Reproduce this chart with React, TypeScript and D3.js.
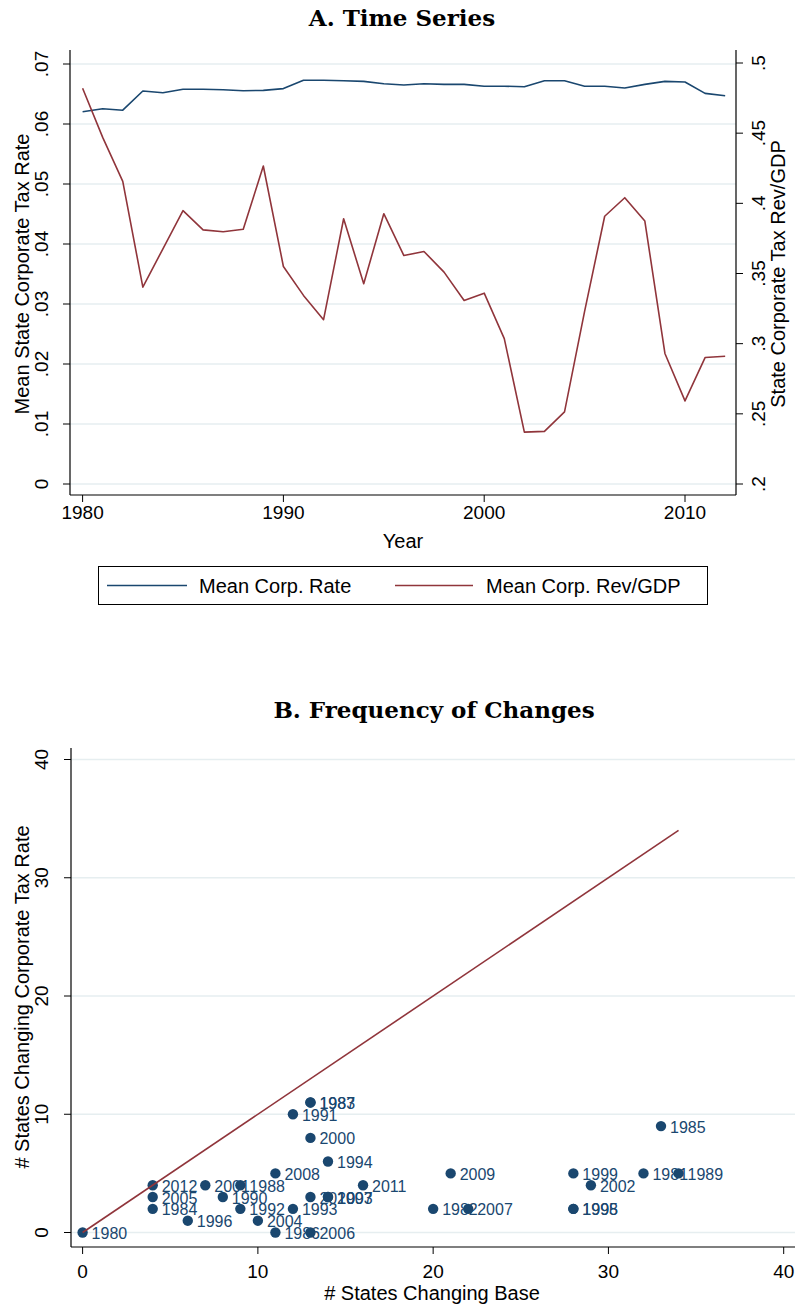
import React from "react";
import * as d3 from "d3";

// ---------- Panel A data ----------
const years: number[] = d3.range(1980, 2013);
const meanCorpRate: number[] = [
  0.06205, 0.06255, 0.0623, 0.0655, 0.0652, 0.0658, 0.0658, 0.0657, 0.06555, 0.0656,
  0.0659, 0.0673, 0.0673, 0.0672, 0.0671, 0.0667, 0.0665, 0.0667, 0.0666, 0.0666,
  0.0663, 0.0663, 0.0662, 0.0672, 0.0672, 0.0663, 0.0663, 0.066, 0.0666, 0.0671,
  0.067, 0.0651, 0.0647,
];
const meanCorpRevGdp: number[] = [
  0.482, 0.447, 0.4157, 0.3403, 0.3676, 0.3948, 0.3811, 0.3797, 0.3815, 0.4266,
  0.355, 0.3344, 0.3171, 0.389, 0.3427, 0.3926, 0.3628, 0.3657, 0.351, 0.3308,
  0.336, 0.3036, 0.237, 0.2375, 0.2514, 0.323, 0.3908, 0.404, 0.3874, 0.293,
  0.2592, 0.2901, 0.291,
];
const leftTicks: number[] = [0, 0.01, 0.02, 0.03, 0.04, 0.05, 0.06, 0.07];
const leftTickLabels: string[] = ["0", ".01", ".02", ".03", ".04", ".05", ".06", ".07"];
const rightTicks: number[] = [0.2, 0.25, 0.3, 0.35, 0.4, 0.45, 0.5];
const rightTickLabels: string[] = [".2", ".25", ".3", ".35", ".4", ".45", ".5"];
const yearTicks: number[] = [1980, 1990, 2000, 2010];

// ---------- Panel B data ----------
const scatterYears: number[] = d3.range(1980, 2013);
const statesChangingBase: number[] = [
  0, 32, 20, 13, 4, 33, 11, 13, 9, 34,
  8, 12, 9, 12, 14, 28, 6, 14, 28, 28,
  13, 7, 29, 14, 10, 4, 13, 22, 11, 21,
  13, 16, 4,
];
const statesChangingRate: number[] = [
  0, 5, 2, 11, 2, 9, 0, 11, 4, 5,
  3, 10, 2, 2, 6, 2, 1, 3, 2, 5,
  8, 4, 4, 3, 1, 3, 0, 2, 5, 5,
  3, 4, 4,
];
const scatterTicks: number[] = [0, 10, 20, 30, 40];

const NAVY = "#1a476f";
const MAROON = "#90353b";
const GRID = "#e6eef0";
const SANS = "'Liberation Sans', Arial, Helvetica, sans-serif";
const SERIF = "'DejaVu Serif', serif";

export default function App() {
  // ---------- Panel A scales ----------
  const xA = d3.scaleLinear().domain([1980, 2010]).range([82.6, 685]);
  const yL = d3.scaleLinear().domain([0, 0.07]).range([484, 64]);
  const yR = d3.scaleLinear().domain([0.2, 0.5]).range([484, 63]);
  const plotA = { left: 70, right: 736, top: 50, bottom: 495 };

  const lineBlue = d3
    .line<number>()
    .x((_, i) => xA(years[i]))
    .y((d) => yL(d));
  const lineRed = d3
    .line<number>()
    .x((_, i) => xA(years[i]))
    .y((d) => yR(d));

  // ---------- Panel B scales ----------
  const xB = d3.scaleLinear().domain([0, 40]).range([82.6, 783.7]);
  const yB = d3.scaleLinear().domain([0, 40]).range([1232.5, 759.5]);
  const plotB = { left: 71, right: 795, top: 748, bottom: 1247 };
  const maxBase = d3.max(statesChangingBase) as number;

  return (
    <svg
      width={797}
      height={1307}
      style={{ position: "absolute", left: 0, top: 0, background: "#fff" }}
      fontFamily={SANS}
    >
      <rect x={0} y={0} width={797} height={1307} fill="#fff" />

      {/* ================= Panel A ================= */}
      <text x={402} y={26} textAnchor="middle" fontFamily={SERIF} fontWeight="bold" fontSize={23}>
        A. Time Series
      </text>

      {/* grid */}
      {leftTicks.map((t) => (
        <line key={"ga" + t} x1={plotA.left} x2={plotA.right} y1={yL(t)} y2={yL(t)} stroke={GRID} strokeWidth={1.5} />
      ))}

      {/* lines */}
      <path d={lineBlue(meanCorpRate) || ""} fill="none" stroke={NAVY} strokeWidth={1.6} strokeLinejoin="round" />
      <path d={lineRed(meanCorpRevGdp) || ""} fill="none" stroke={MAROON} strokeWidth={1.6} strokeLinejoin="round" />

      {/* left axis */}
      <line x1={plotA.left} x2={plotA.left} y1={plotA.top} y2={plotA.bottom} stroke="#000" strokeWidth={1.2} />
      {leftTicks.map((t, i) => (
        <g key={"la" + t}>
          <line x1={plotA.left - 7} x2={plotA.left} y1={yL(t)} y2={yL(t)} stroke="#000" strokeWidth={1} />
          <text
            transform={`translate(48,${yL(t)}) rotate(-90)`}
            textAnchor="middle"
            fontSize={19}
          >
            {leftTickLabels[i]}
          </text>
        </g>
      ))}
      <text transform={`translate(29,274) rotate(-90)`} textAnchor="middle" fontSize={20}>
        Mean State Corporate Tax Rate
      </text>

      {/* right axis */}
      <line x1={plotA.right} x2={plotA.right} y1={plotA.top} y2={plotA.bottom} stroke="#000" strokeWidth={1.2} />
      {rightTicks.map((t, i) => (
        <g key={"ra" + t}>
          <line x1={plotA.right} x2={plotA.right + 7} y1={yR(t)} y2={yR(t)} stroke="#000" strokeWidth={1} />
          <text
            transform={`translate(765,${yR(t)}) rotate(-90)`}
            textAnchor="middle"
            fontSize={19}
          >
            {rightTickLabels[i]}
          </text>
        </g>
      ))}
      <text transform={`translate(785,274) rotate(-90)`} textAnchor="middle" fontSize={20}>
        State Corporate Tax Rev/GDP
      </text>

      {/* bottom axis */}
      <line x1={plotA.left} x2={plotA.right} y1={plotA.bottom} y2={plotA.bottom} stroke="#000" strokeWidth={1.2} />
      {yearTicks.map((t) => (
        <g key={"xa" + t}>
          <line x1={xA(t)} x2={xA(t)} y1={plotA.bottom} y2={plotA.bottom + 7} stroke="#000" strokeWidth={1} />
          <text x={xA(t)} y={519} textAnchor="middle" fontSize={19}>
            {t}
          </text>
        </g>
      ))}
      <text x={403} y={548} textAnchor="middle" fontSize={20}>
        Year
      </text>

      {/* legend */}
      <rect x={98.5} y={566.5} width={609} height={38} fill="#fff" stroke="#000" strokeWidth={1} />
      <line x1={107} x2={187} y1={585.5} y2={585.5} stroke={NAVY} strokeWidth={1.6} />
      <text x={199} y={592.5} fontSize={20}>
        Mean Corp. Rate
      </text>
      <line x1={395} x2={473} y1={585.5} y2={585.5} stroke={MAROON} strokeWidth={1.6} />
      <text x={486} y={592.5} fontSize={20}>
        Mean Corp. Rev/GDP
      </text>

      {/* ================= Panel B ================= */}
      <text x={434} y={718} textAnchor="middle" fontFamily={SERIF} fontWeight="bold" fontSize={23}>
        B. Frequency of Changes
      </text>

      {scatterTicks.map((t) => (
        <line key={"gb" + t} x1={plotB.left} x2={plotB.right} y1={yB(t)} y2={yB(t)} stroke={GRID} strokeWidth={1.5} />
      ))}

      {/* labels first, markers on top */}
      {scatterYears.map((yr, i) => (
        <text
          key={"lb" + yr}
          x={xB(statesChangingBase[i]) + 9}
          y={yB(statesChangingRate[i]) + 6.5}
          fontSize={16}
          fill={NAVY}
        >
          {yr}
        </text>
      ))}
      {scatterYears.map((yr, i) => (
        <circle
          key={"pt" + yr}
          cx={xB(statesChangingBase[i])}
          cy={yB(statesChangingRate[i])}
          r={5.2}
          fill={NAVY}
        />
      ))}

      {/* 45-degree line */}
      <line
        x1={xB(0)}
        y1={yB(0)}
        x2={xB(maxBase)}
        y2={yB(maxBase)}
        stroke={MAROON}
        strokeWidth={1.6}
      />

      {/* left axis */}
      <line x1={plotB.left} x2={plotB.left} y1={plotB.top} y2={plotB.bottom} stroke="#000" strokeWidth={1.2} />
      {scatterTicks.map((t) => (
        <g key={"lb-ax" + t}>
          <line x1={plotB.left - 7} x2={plotB.left} y1={yB(t)} y2={yB(t)} stroke="#000" strokeWidth={1} />
          <text transform={`translate(48,${yB(t)}) rotate(-90)`} textAnchor="middle" fontSize={19}>
            {t}
          </text>
        </g>
      ))}
      <text transform={`translate(29,997) rotate(-90)`} textAnchor="middle" fontSize={20}>
        # States Changing Corporate Tax Rate
      </text>

      {/* bottom axis */}
      <line x1={plotB.left} x2={plotB.right} y1={plotB.bottom} y2={plotB.bottom} stroke="#000" strokeWidth={1.2} />
      {scatterTicks.map((t) => (
        <g key={"xb" + t}>
          <line x1={xB(t)} x2={xB(t)} y1={plotB.bottom} y2={plotB.bottom + 7} stroke="#000" strokeWidth={1} />
          <text x={xB(t)} y={1278} textAnchor="middle" fontSize={19}>
            {t}
          </text>
        </g>
      ))}
      <text x={432} y={1300} textAnchor="middle" fontSize={20}>
        # States Changing Base
      </text>
    </svg>
  );
}
